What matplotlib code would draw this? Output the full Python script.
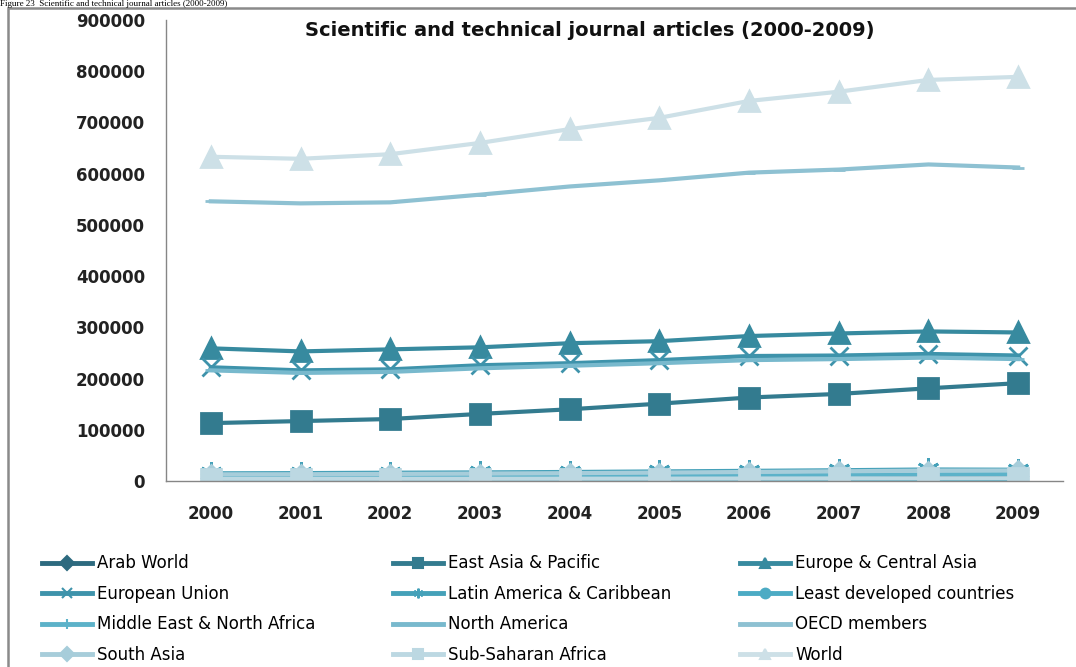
import numpy as np
import matplotlib
matplotlib.use("Agg")
import matplotlib.pyplot as plt
from matplotlib.lines import Line2D
from matplotlib.patches import Rectangle

years = ['2000', '2001', '2002', '2003', '2004', '2005', '2006', '2007', '2008', '2009']

arab_world = [5400, 5600, 5800, 6000, 6400, 6800, 7300, 7800, 8400, 8900]
east_asia = [113000, 117000, 121000, 131000, 140000, 151000, 163000, 170000, 181000, 191000]
europe_central = [259000, 253000, 257000, 261000, 269000, 273000, 283000, 288000, 292000, 290000]
european_union = [222000, 216000, 218000, 226000, 230000, 236000, 244000, 245000, 248000, 245000]
latin_america = [15000, 15400, 16200, 16800, 17600, 18700, 19800, 21000, 22500, 22000]
least_developed = [900, 950, 1000, 1050, 1150, 1250, 1350, 1500, 1650, 1700]
mena = [7500, 7800, 8300, 8700, 9400, 10200, 11000, 11800, 12900, 13500]
north_america = [216000, 211000, 213000, 220000, 225000, 230000, 236000, 238000, 241000, 238000]
oecd = [546000, 542000, 544000, 559000, 575000, 587000, 602000, 608000, 618000, 612000]
south_asia = [13000, 13200, 13800, 14500, 15300, 16400, 17600, 18900, 20300, 20500]
sub_saharan = [4200, 4200, 4300, 4300, 4500, 4600, 4800, 5000, 5200, 5400]
world = [633000, 629000, 638000, 660000, 687000, 709000, 742000, 760000, 783000, 789000]

names = ['Arab World', 'East Asia & Pacific', 'Europe & Central Asia',
         'European Union', 'Latin America & Caribbean', 'Least developed countries',
         'Middle East & North Africa', 'North America', 'OECD members',
         'South Asia', 'Sub-Saharan Africa', 'World']
series = [arab_world, east_asia, europe_central, european_union, latin_america,
          least_developed, mena, north_america, oecd, south_asia, sub_saharan, world]

colors = ['#2d6a7f', '#337b8f', '#378a9f', '#3e93ab', '#45a1b9', '#4cabc4',
          '#5cb2c9', '#78b9cd', '#8ec1d2', '#a7cdda', '#bcd8e2', '#cde0e7']
markers = ['D', 's', '^', 'x', (6, 2, 0), 'o', '|', '_', '_', 'D', 's', '^']
msizes = [9, 14, 14, 13, 16, 12, 12, 8, 8, 9, 15, 14]

plt.rcParams['font.family'] = ['DejaVu Sans']

fig = plt.figure(figsize=(10.76, 6.67), dpi=100)
ax = fig.add_axes([166 / 1076, 1 - 481 / 667, (1063 - 166) / 1076, (481 - 20) / 667])

x = np.arange(len(years))
for s, name, c, m, ms in zip(series, names, colors, markers, msizes):
    ax.plot(x, s, color=c, lw=3, marker=m, markersize=ms, markeredgewidth=2,
            markeredgecolor=c, markerfacecolor=c, solid_joinstyle='round', label=name)

ax.set_xlim(-0.5, 9.5)
ax.set_ylim(0, 900000)
ax.set_yticks(np.arange(0, 900001, 100000))
ax.set_yticklabels([str(v) for v in range(0, 900001, 100000)])
ax.set_xticks(x)
ax.set_xticklabels(years)
ax.tick_params(axis='both', length=0, labelsize=12, colors='#222222')
ax.tick_params(axis='y', pad=15)
ax.tick_params(axis='x', pad=17)
for t in ax.get_xticklabels() + ax.get_yticklabels():
    t.set_fontweight('bold')
for sp in ['top', 'right']:
    ax.spines[sp].set_visible(False)
for sp in ['left', 'bottom']:
    ax.spines[sp].set_color('#868686')
    ax.spines[sp].set_linewidth(1)

fig.text(590 / 1076, 1 - 31 / 667, 'Scientific and technical journal articles (2000-2009)',
         ha='center', va='center', fontsize=14, fontweight='bold', color='#111111')

# caption above the chart frame
fig.text(0.0, 1.0, 'Figure 23  Scientific and technical journal articles (2000-2009)',
         family='Liberation Serif', fontsize=6.5, va='top', ha='left')

# outer frame
fig.patches.append(Rectangle((8 / 1076, -0.1), 1.2, 1 - 8 / 667 + 0.1, transform=fig.transFigure,
                             fill=False, edgecolor='#8a8a8a', lw=1.8))

# legend in three columns, row-wise order
leg_handles = []
for name, c, m in zip(names, colors, markers):
    leg_handles.append(Line2D([0], [0], color=c, lw=3.5, marker=m, markersize=7,
                              markeredgewidth=1.5, markeredgecolor=c, markerfacecolor=c))
col_x = [39, 390, 737]
for j in range(3):
    idx = [j, j + 3, j + 6, j + 9]
    fig.legend([leg_handles[i] for i in idx], [names[i] for i in idx],
               loc='upper left', bbox_to_anchor=(col_x[j] / 1076, 1 - 551 / 667),
               frameon=False, fontsize=12, handlelength=3.0, handletextpad=0.3,
               labelspacing=0.75, borderaxespad=0, borderpad=0.2)

fig.savefig('out.png', dpi=100)
